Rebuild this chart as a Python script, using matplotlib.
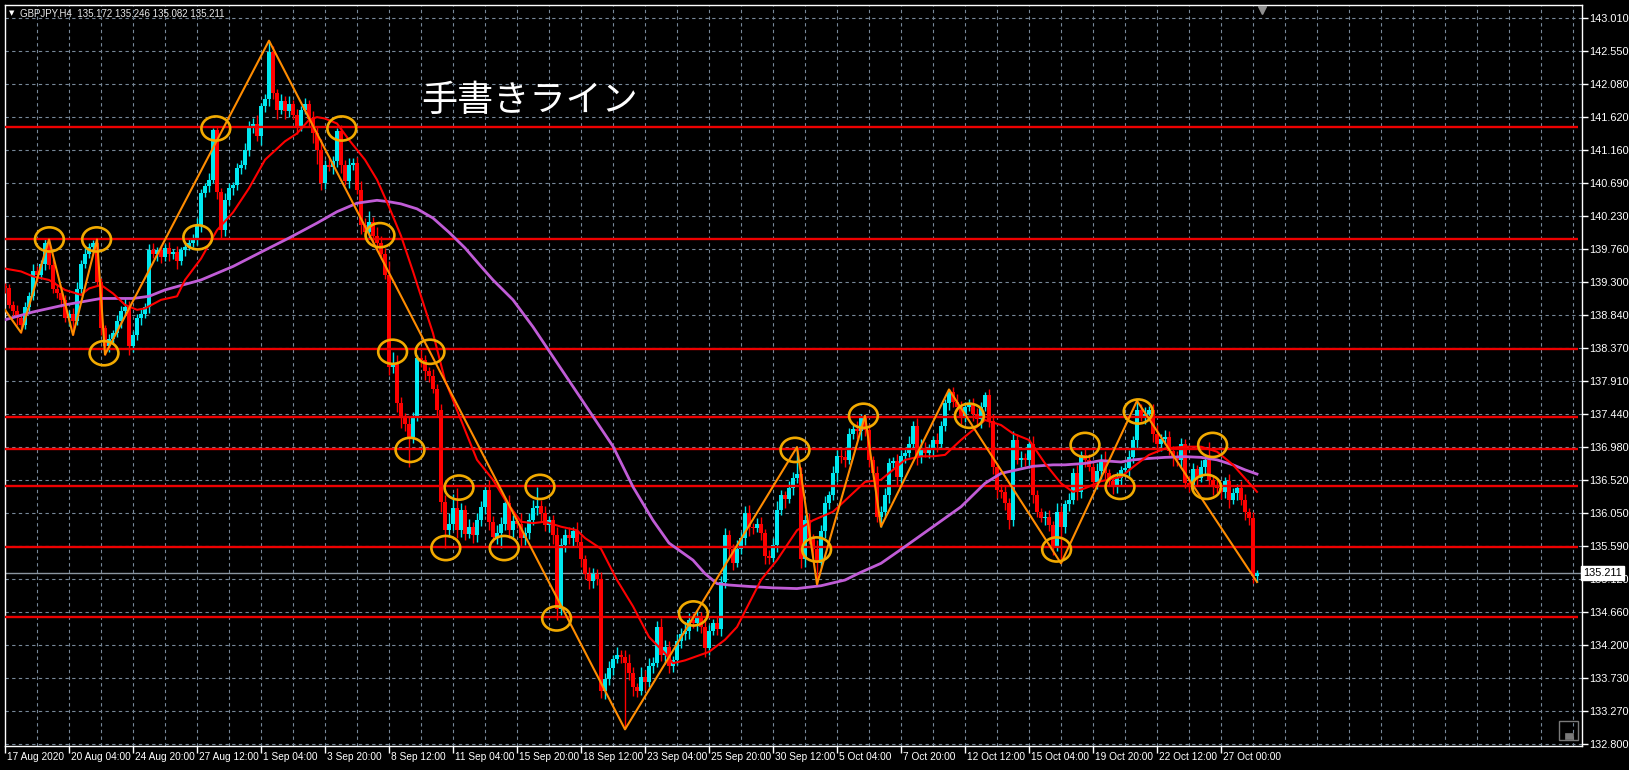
import numpy as np
import matplotlib
matplotlib.use("Agg")
import matplotlib.pyplot as plt
import matplotlib.transforms as mtrans
from matplotlib.patches import Ellipse, Rectangle

plt.rcParams['font.family'] = ['Liberation Sans', 'DejaVu Sans']

# ---- data (H4 bars, index 0 = 17 Aug 12:00) ----
first_open = 139.25
closes = [
    139.21, 138.98, 138.90, 138.80, 138.70, 138.95, 139.10, 139.45, 139.40, 139.55,
    139.85, 139.54, 139.20, 139.15, 139.05, 138.80, 138.85, 138.75, 139.20, 139.55,
    139.70, 139.80, 139.85, 139.30, 138.65, 138.40, 138.50, 138.58, 138.75, 138.90,
    138.95, 138.40, 138.55, 138.80, 138.85, 138.95, 139.75, 139.70, 139.75, 139.65,
    139.78, 139.70, 139.72, 139.60, 139.75, 139.80, 139.85, 139.90, 140.10, 140.55,
    140.65, 140.74, 141.44, 140.57, 140.03, 140.45, 140.62, 140.66, 140.90, 140.95,
    141.16, 141.50, 141.53, 141.35, 141.77, 141.88, 142.54, 141.96, 141.72, 141.85,
    141.70, 141.80, 141.65, 141.50, 141.72, 141.80, 141.60, 141.40, 141.16, 140.69,
    140.95, 140.92, 141.00, 141.43, 140.95, 140.72, 140.95, 140.98, 140.60, 140.10,
    140.00, 140.15, 139.95, 139.85, 139.70, 139.40, 138.10, 138.15, 137.60, 137.40,
    137.31, 137.12, 137.40, 138.23, 138.20, 138.05, 137.98, 137.80, 137.50, 136.21,
    135.81, 135.90, 136.12, 135.82, 136.10, 135.76, 135.85, 135.75, 135.95, 136.14,
    136.38, 135.93, 135.72, 135.77, 135.90, 136.20, 135.82, 135.94, 135.90, 135.70,
    135.77, 135.95, 136.12, 136.15, 136.05, 135.88, 135.95, 135.74, 134.70, 135.60,
    135.75, 135.70, 135.80, 135.65, 135.40, 135.20, 135.10, 135.20, 135.12, 133.55,
    133.72, 133.87, 134.00, 134.05, 134.03, 133.95, 133.80, 133.60, 133.55, 133.75,
    133.68, 133.90, 133.95, 134.45, 134.05, 134.17, 133.90, 133.98, 134.25, 134.35,
    134.40, 134.55, 134.50, 134.60, 134.45, 134.15, 134.40, 134.50, 134.42, 135.08,
    135.74, 135.55, 135.35, 135.55, 135.70, 136.05, 135.85, 135.84, 135.90, 135.77,
    135.45, 135.42, 135.60, 136.10, 136.30, 136.25, 136.40, 136.55, 136.60, 135.40,
    135.95, 135.70, 135.55, 135.35, 135.80, 136.19, 136.30, 136.61, 136.86, 136.84,
    136.80, 137.17, 137.24, 137.20, 137.40, 137.22, 136.80, 136.61, 136.00, 136.07,
    136.30, 136.75, 136.78, 136.56, 136.86, 136.90, 137.03, 137.27, 136.85, 136.95,
    136.90, 136.95, 137.08, 137.03, 137.27, 137.60, 137.75, 137.62, 137.55, 137.41,
    137.55, 137.57, 137.45, 137.37, 137.55, 137.71, 137.34, 136.70, 136.38, 136.35,
    136.20, 135.95, 137.08, 136.80, 136.82, 136.80, 137.03, 136.30, 136.07, 135.98,
    136.00, 135.88, 135.58, 136.07, 135.85, 136.18, 136.24, 136.61, 136.35, 136.87,
    136.80, 136.70, 136.49, 136.65, 136.80, 136.61, 136.50, 136.42, 136.55, 136.66,
    136.68, 136.84, 137.08, 137.50, 137.41, 137.45, 137.50, 137.17, 137.03, 137.10,
    137.12, 136.93, 136.82, 136.80, 137.03, 136.47, 136.45, 136.67, 136.55, 136.70,
    136.80, 136.52, 136.43, 136.40, 136.35, 136.50, 136.24, 136.33, 136.40, 136.24,
    136.07, 135.98, 135.172, 135.211,
]
# wick lengths in pips (0.01 yen)
wick_up = [
    4, 6, 5, 8, 5, 7, 6, 10, 8, 6, 5, 5, 9, 6, 5, 7, 6, 8, 10, 6,
    8, 5, 4, 5, 6, 4, 7, 5, 9, 6, 12, 8, 6, 5, 7, 6, 8, 10, 5, 7,
    6, 8, 5, 9, 4, 6, 5, 8, 10, 6, 5, 9, 2, 4, 6, 10, 7, 5, 8, 6,
    10, 6, 8, 12, 5, 6, 15, 8, 6, 10, 7, 12, 6, 8, 5, 9, 6, 10, 8, 15,
    6, 10, 8, 4, 8, 6, 10, 6, 8, 12, 10, 15, 6, 12, 10, 8, 20, 17, 12, 8,
    6, 10, 8, 5, 12, 8, 6, 10, 6, 8, 10, 15, 20, 29, 10, 6, 12, 8, 10, 8,
    6, 14, 8, 12, 10, 6, 10, 8, 6, 15, 8, 10, 12, 27, 8, 10, 6, 8, 12, 10,
    8, 10, 6, 12, 8, 6, 10, 8, 6, 10, 8, 10, 6, 12, 8, 10, 12, 8, 6, 14,
    10, 12, 8, 8, 12, 10, 8, 6, 10, 8, 12, 10, 10, 8, 6, 10, 8, 6, 10, 8,
    10, 8, 6, 12, 8, 10, 12, 6, 8, 10, 6, 8, 10, 12, 8, 6, 10, 8, 38, 10,
    8, 10, 6, 12, 8, 10, 6, 10, 8, 12, 10, 8, 6, 10, 4, 2, 8, 6, 10, 8,
    10, 8, 6, 10, 8, 6, 10, 8, 12, 15, 10, 8, 6, 10, 8, 6, 4, 8, 10, 8,
    6, 8, 10, 8, 6, 5, 8, 10, 6, 8, 10, 6, 12, 8, 10, 8, 6, 10, 8, 6,
    8, 10, 6, 12, 8, 6, 10, 8, 12, 6, 10, 8, 6, 10, 8, 12, 6, 10, 8, 6,
    8, 10, 6, 13, 8, 10, 6, 8, 12, 6, 10, 8, 6, 10, 8, 6, 10, 8, 6, 10,
    8, 25, 6, 10, 8, 6, 10, 8, 6, 10, 8, 6, 8, 3.5,
]
wick_dn = [
    6, 5, 8, 10, 11, 6, 8, 5, 10, 6, 8, 6, 5, 8, 10, 6, 12, 19, 6, 8,
    5, 6, 8, 6, 10, 12, 8, 6, 5, 10, 6, 12, 8, 6, 10, 5, 8, 6, 10, 8,
    6, 10, 8, 12, 6, 8, 5, 6, 8, 10, 6, 8, 5, 10, 12, 8, 6, 10, 6, 8,
    6, 8, 10, 6, 12, 8, 10, 8, 12, 6, 10, 8, 6, 12, 8, 6, 10, 15, 20, 10,
    8, 6, 10, 8, 12, 6, 10, 8, 6, 12, 10, 8, 12, 10, 8, 6, 10, 8, 12, 15,
    10, 42, 8, 6, 10, 12, 8, 6, 10, 15, 25, 10, 8, 12, 10, 8, 6, 12, 10, 8,
    10, 12, 8, 10, 21, 8, 12, 10, 6, 12, 10, 8, 6, 10, 12, 8, 10, 12, 15, 8,
    10, 8, 12, 6, 10, 8, 12, 10, 8, 10, 12, 8, 10, 6, 8, 94, 10, 12, 8, 6,
    12, 8, 10, 6, 8, 12, 10, 8, 6, 10, 8, 12, 6, 10, 8, 12, 10, 6, 8, 10,
    8, 12, 10, 6, 8, 10, 12, 8, 6, 10, 12, 8, 6, 10, 8, 12, 6, 10, 8, 12,
    10, 8, 12, 30, 6, 10, 8, 6, 12, 8, 10, 6, 8, 10, 12, 8, 10, 6, 8, 14,
    8, 10, 6, 12, 8, 10, 6, 8, 12, 10, 6, 8, 10, 12, 8, 6, 10, 8, 6, 10,
    8, 6, 10, 8, 12, 6, 8, 10, 12, 8, 10, 12, 8, 6, 10, 8, 12, 10, 8, 6,
    10, 8, 12, 6, 50, 8, 10, 6, 12, 8, 10, 6, 8, 10, 12, 8, 6, 10, 8, 12,
    6, 10, 8, 12, 6, 10, 8, 12, 6, 10, 8, 6, 10, 8, 12, 6, 10, 8, 12, 6,
    10, 8, 12, 6, 10, 8, 12, 6, 10, 8, 12, 10, 10, 9,
]

# moving averages (bar index, price)
ma_fast_idx = [0, 4, 7, 11, 15, 19, 21, 24, 27, 30, 33, 35, 39, 43, 45, 49, 53, 57, 61, 65,
               70, 73, 76, 78, 80, 83, 86, 90, 93, 96, 99, 102, 107, 110, 114, 118, 122, 125, 129, 132,
               135, 139, 143, 145, 149, 153, 157, 161, 165, 167, 170, 174, 176, 180, 183, 186, 189, 193, 198, 202,
               207, 211, 215, 219, 222, 225, 229, 232, 235, 239, 242, 245, 249, 252, 256, 260, 264, 267, 270, 274,
               279, 282, 286, 290, 295, 299, 303, 307, 310, 313]
ma_fast_val = [139.49, 139.45, 139.38, 139.33, 139.19, 139.12, 139.21, 139.26, 139.14, 138.98,
               138.91, 138.93, 139.05, 139.10, 139.33, 139.63, 140.03, 140.28, 140.62, 141.02,
               141.28, 141.39, 141.58, 141.62, 141.60, 141.53, 141.30, 141.02, 140.74, 140.36,
               139.95, 139.45, 138.58, 137.92, 137.36, 136.80, 136.52, 136.24, 135.93, 135.91,
               135.93, 135.86, 135.81, 135.70, 135.55, 135.11, 134.74, 134.31, 134.08, 133.94,
               133.98, 134.06, 134.10, 134.27, 134.45, 134.78, 135.11, 135.39, 135.81, 135.95,
               136.07, 136.28, 136.49, 136.52, 136.66, 136.80, 136.85, 136.85, 136.87, 137.08,
               137.22, 137.36, 137.29, 137.17, 137.08, 136.75, 136.47, 136.35, 136.40, 136.50,
               136.56, 136.70, 136.87, 136.96, 136.985, 136.985, 136.915, 136.73, 136.54, 136.35]
ma_slow_idx = [0, 7, 15, 24, 32, 36, 40, 49, 57, 65, 71, 74, 78, 83, 88, 93, 96, 99, 103, 107,
               111, 115, 119, 122, 127, 132, 137, 142, 147, 152, 157, 162, 166, 168, 172, 175, 178, 181, 186, 192,
               198, 204, 210, 214, 219, 225, 232, 239, 245, 249, 253, 257, 262, 265, 270, 274, 279, 282, 286, 290,
               295, 299, 303, 307, 310, 313]
ma_slow_val = [138.77, 138.88, 138.98, 139.07, 139.07, 139.10, 139.19, 139.33, 139.52, 139.75,
               139.92, 140.01, 140.13, 140.29, 140.41, 140.45, 140.43, 140.40, 140.33, 140.20,
               140.00, 139.78, 139.52, 139.33, 139.05, 138.67, 138.25, 137.83, 137.41, 136.99,
               136.42, 135.95, 135.63, 135.55, 135.39, 135.20, 135.06, 135.04, 135.02, 135.00,
               134.99, 135.03, 135.11, 135.22, 135.345, 135.58, 135.86, 136.14, 136.47, 136.61,
               136.66, 136.71, 136.73, 136.73, 136.75, 136.79, 136.77, 136.80, 136.82, 136.835,
               136.845, 136.835, 136.80, 136.73, 136.66, 136.60]

# hand drawn zigzag
zz_idx = [0, 4, 11, 17, 23, 25, 66, 155, 198, 203, 215, 219, 236, 264, 283, 313]
zz_val = [138.91, 138.59, 139.90, 138.556, 139.90, 138.28, 142.695, 133.01, 136.98,
          135.05, 137.42, 135.86, 137.79, 135.345, 137.63, 135.082]

# horizontal support / resistance lines
levels = [141.477, 139.90, 138.355, 137.40, 136.95, 136.43, 135.57, 134.585]

# circled points (bar index, price)
circle_idx = [11.1, 22.9, 24.75, 48.2, 52.7, 84.2, 93.75, 96.9, 106.25, 101.25, 113.5, 110.2, 124.8,
              133.75, 137.9, 172.1, 197.5, 202.9, 214.6, 241.1, 262.9, 270.0, 278.75, 283.3, 300.4, 301.9]
circle_val = [139.90, 139.90, 138.30, 139.93, 141.46, 141.46, 139.96, 138.32, 138.32, 136.94, 136.41,
              135.56, 135.56, 136.42, 134.57, 134.64, 136.94, 135.54, 137.42, 137.42, 135.54, 137.01,
              136.42, 137.48, 136.42, 137.01]

price_ticks = [143.010, 142.550, 142.080, 141.620, 141.160, 140.690, 140.230, 139.760, 139.300,
               138.840, 138.370, 137.910, 137.440, 136.980, 136.520, 136.050, 135.590, 135.120,
               134.660, 134.200, 133.730, 133.270, 132.800]
date_labels = ["17 Aug 2020", "20 Aug 04:00", "24 Aug 20:00", "27 Aug 12:00", "1 Sep 04:00",
               "3 Sep 20:00", "8 Sep 12:00", "11 Sep 04:00", "15 Sep 20:00", "18 Sep 12:00",
               "23 Sep 04:00", "25 Sep 20:00", "30 Sep 12:00", "5 Oct 04:00", "7 Oct 20:00",
               "12 Oct 12:00", "15 Oct 04:00", "19 Oct 20:00", "22 Oct 12:00", "27 Oct 00:00"]
last_price = 135.211

# ---- figure ----
W, H = 1629, 770
fig = plt.figure(figsize=(W / 100, H / 100), dpi=100, facecolor='black')
ax = fig.add_axes([4.7 / W, 1 - 746 / H, (1582 - 4.7) / W, (746 - 4.7) / H])
ax.set_facecolor('black')
ax.set_xlim(-0.075, 394.25)
ax.set_ylim(132.776, 143.201)

grid_col = '#778899'
for k in range(1, 50):
    ax.axvline(8 * k, color=grid_col, lw=0.8, ls=(0, (3, 3)), zorder=1)
for p in price_ticks:
    ax.axhline(p, color=grid_col, lw=0.8, ls=(0, (3, 3)), zorder=1)

# candles
c = np.array(closes)
o = np.concatenate([[first_open], c[:-1]])
hi = np.maximum(o, c) + np.array(wick_up) / 100
lo = np.minimum(o, c) - np.array(wick_dn) / 100
idx = np.arange(len(c))
cols = np.where(c >= o, '#00e8f0', '#ff0000')
ax.vlines(idx, lo, hi, colors=cols, lw=1, zorder=3)
ax.bar(idx, np.maximum(np.abs(c - o), 0.012), bottom=np.minimum(o, c), width=0.78,
       color=cols, lw=0, zorder=3)

# current price line
ax.axhline(last_price, color='#8c96a0', lw=1, zorder=2)

# levels
for lv in levels:
    ax.plot([-0.075, 393.25], [lv, lv], color='#ee0000', lw=1.7, zorder=4, solid_capstyle='butt')

ax.plot(ma_slow_idx, ma_slow_val, color='#c05cd6', lw=2, zorder=5)
ax.plot(ma_fast_idx, ma_fast_val, color='#ff0000', lw=1.5, zorder=5)
ax.plot(zz_idx, zz_val, color='#ff8c00', lw=1.5, zorder=6)

for ci, cv in zip(circle_idx, circle_val):
    ax.add_patch(Ellipse((ci, cv), width=7.2, height=0.34, fill=False, ec='#f2aa00', lw=1.9, zorder=7))

# axes styling
for s in ax.spines.values():
    s.set_color('white')
    s.set_linewidth(1)
ax.yaxis.tick_right()
ax.set_yticks(price_ticks)
ax.set_yticklabels([f"{p:.3f}" for p in price_ticks])
ax.tick_params(axis='y', colors='white', labelcolor='white', length=4, width=1, pad=0.8, labelsize=7.9)
ax.set_xticks(range(0, 305, 16))
ax.set_xticklabels([])
ax.tick_params(axis='x', colors='white', length=5, width=1, direction='out')

trans = mtrans.blended_transform_factory(ax.transData, fig.transFigure)
for k, lab in enumerate(date_labels):
    ax.text(16 * k + 0.6, 1 - 757 / H, lab, transform=trans, color='white', fontsize=7.3,
            ha='left', va='center')

ytrans = mtrans.blended_transform_factory(ax.transAxes, ax.transData)
ax.text(1.0005, last_price, "135.211", transform=ytrans, color='black', fontsize=7.9,
        ha='left', va='center', zorder=10,
        bbox=dict(boxstyle='square,pad=0.2', fc='white', ec='white'))

# title and annotation
fig.text(9 / W, 1 - 13 / H, "\u25bc", color='white', fontsize=5, ha='left', va='center',
         family='DejaVu Sans')
fig.text(20 / W, 1 - 13 / H, "GBPJPY,H4  135.172 135.246 135.082 135.211", color='#e8e8e8',
         fontsize=7.0, ha='left', va='center')
fig.text(421 / W, 1 - 101 / H, "手書きライン", color='white', fontsize=26, ha='left', va='center',
         family=['Noto Sans CJK JP', 'DejaVu Sans'])

# chart shift marker and save icon
ax.plot([314.25], [0.993], marker='v', ms=6, color='#909090',
        transform=mtrans.blended_transform_factory(ax.transData, ax.transAxes), clip_on=False, zorder=11)
fig.add_artist(Rectangle((1559 / W, 1 - 740 / H), 19 / W, 19 / H, transform=fig.transFigure,
                         fill=False, ec='#7a7a7a', lw=1))
fig.add_artist(Rectangle((1565 / W, 1 - 739 / H), 8 / W, 6 / H, transform=fig.transFigure,
                         fill=True, fc='#7a7a7a', ec='#7a7a7a', lw=0.5))

fig.savefig("out.png", dpi=100, facecolor='black')
